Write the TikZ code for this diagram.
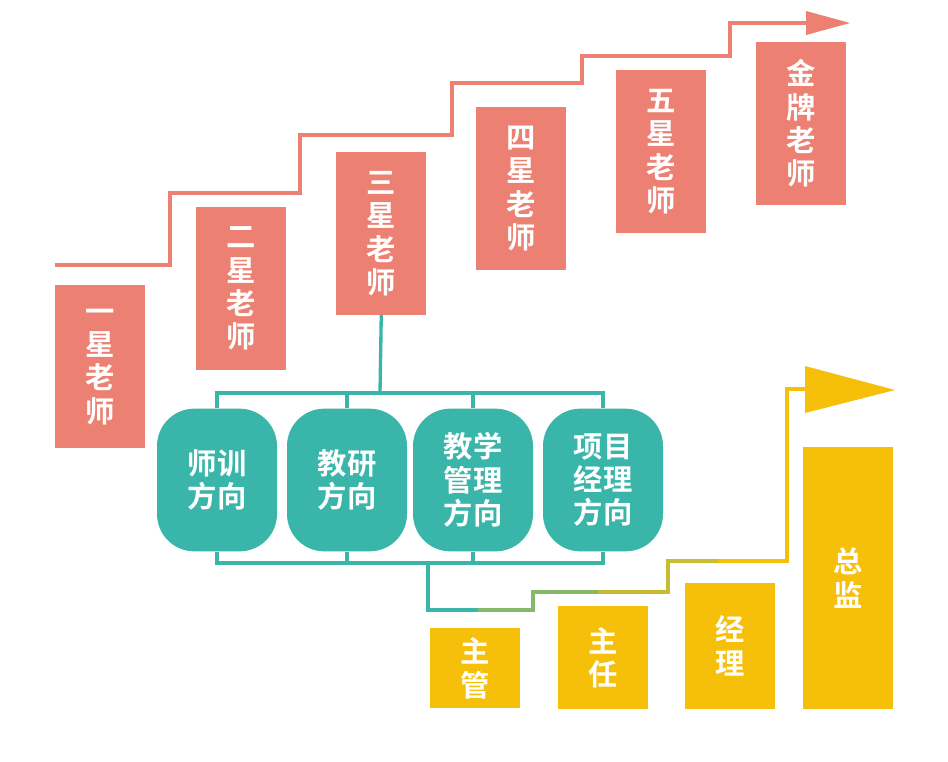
\documentclass[tikz,border=0pt]{standalone}
\usepackage{fontspec}
\newfontfamily\cjk{Noto Sans CJK SC}[BoldFont={Noto Sans CJK SC Bold}]
\begin{document}
\begin{tikzpicture}[x=0.75pt,y=-0.75pt,
  redbox/.style={fill=salm,draw=none,anchor=north west,inner sep=0,text=white,font=\cjk\bfseries\fontsize{22}{25}\selectfont,align=center},
  tealbox/.style={fill=teal1,draw=none,rounded corners=28pt,inner sep=0,text=white,font=\cjk\bfseries\fontsize{22}{25}\selectfont,align=center,minimum width=90pt,minimum height=107pt},
  ylbox/.style={fill=ylw,draw=none,anchor=north west,inner sep=0,text=white,font=\cjk\bfseries\fontsize{22}{25}\selectfont,align=center},
  tl/.style={draw=teal1,line width=2.5pt}]
\definecolor{salm}{HTML}{EC8173}
\definecolor{teal1}{HTML}{3AB5A9}
\definecolor{ylw}{HTML}{F6BF0A}
\useasboundingbox[fill=white] (0,0) rectangle (948,761);
% stair line red
\coordinate (s0) at (55,265);
\coordinate (s6) at (808,23);
\draw[salm,line width=2.5pt] (s0) -- (170,265) -- (170,193) -- (300,193) -- (300,135) -- (452,135) -- (452,83) -- (582,83) -- (582,56) -- (730,56) -- (730,23) -- (s6);
\fill[salm] (806,11) -- (850,23) -- (806,35) -- cycle;
% red boxes
\node[redbox,minimum width=67.5pt,minimum height=122pt] (r1) at (55,285) {一\\星\\老\\师};
\node[redbox,minimum width=67.5pt,minimum height=122pt] (r2) at (196,207) {二\\星\\老\\师};
\node[redbox,minimum width=67.5pt,minimum height=122pt] (r3) at (336,152) {三\\星\\老\\师};
\node[redbox,minimum width=67.5pt,minimum height=122pt] (r4) at (476,107) {四\\星\\老\\师};
\node[redbox,minimum width=67.5pt,minimum height=122pt] (r5) at (616,70) {五\\星\\老\\师};
\node[redbox,minimum width=67.5pt,minimum height=122pt] (r6) at (756,42) {金\\牌\\老\\师};
% teal boxes
\node[tealbox] (t1) at (217,480) {师训\\方向};
\node[tealbox] (t2) at (347,480) {教研\\方向};
\node[tealbox] (t3) at (473,480) {教学\\管理\\方向};
\node[tealbox] (t4) at (603,480) {项目\\经理\\方向};
\coordinate (bt) at (380,393);
\draw[tl] (r3.south) -- (bt);
\draw[tl] (t1.north) -- (217,393) -- (603,393) -- (t4.north);
\draw[tl] (t2.north) -- (347,393);
\draw[tl] (t3.north) -- (473,393);
\draw[tl] (t1.south) -- (217,563) -- (603,563) -- (t4.south);
\draw[tl] (t2.south) -- (347,563);
\draw[tl] (t3.south) -- (473,563);
% gradient line
\coordinate (g0) at (428,563);
\draw[teal1,line width=3.5pt] (g0) -- (428,610) -- (480,610);
\draw[teal1!60!ylw,line width=3.5pt] (478,610) -- (533,610) -- (533,592) -- (600,592);
\draw[teal1!25!ylw,line width=3.5pt] (598,592) -- (668,592) -- (668,561) -- (720,561);
\draw[ylw,line width=3.5pt] (718,561) -- (787,561) -- (787,389) -- (806,389);
\fill[ylw] (805,366) -- (895,390) -- (805,413) -- cycle;
% yellow boxes
\node[ylbox,minimum width=67.5pt,minimum height=60pt] (y1) at (430,628) {主\\管};
\node[ylbox,minimum width=67.5pt,minimum height=77pt] (y2) at (558,606) {主\\任};
\node[ylbox,minimum width=67.5pt,minimum height=94pt] (y3) at (685,583) {经\\理};
\node[ylbox,minimum width=67.5pt,minimum height=196pt] (y4) at (803,447) {总\\监};
\end{tikzpicture}
\end{document}
